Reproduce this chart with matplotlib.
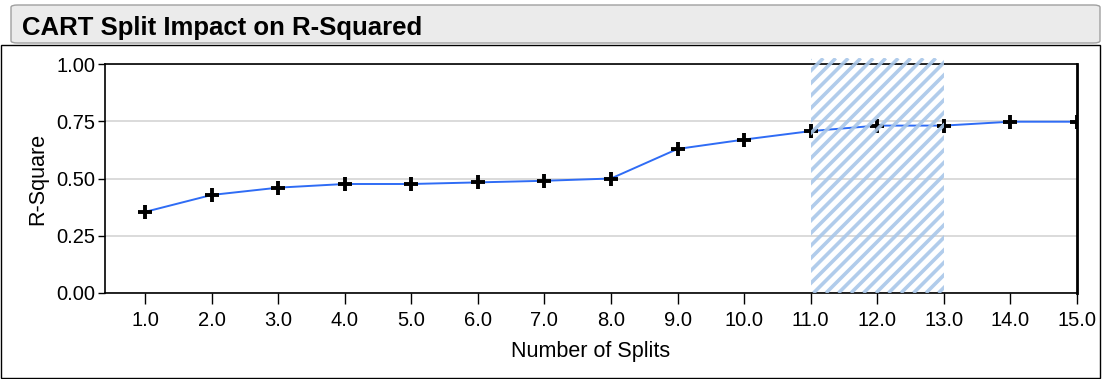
import numpy as np
import matplotlib.pyplot as plt
from matplotlib.patches import FancyBboxPatch, Rectangle
from matplotlib.collections import LineCollection
from matplotlib.transforms import IdentityTransform

plt.rcParams['font.family'] = ['Liberation Sans', 'DejaVu Sans']

splits = [1, 2, 3, 4, 5, 6, 7, 8, 9, 10, 11, 12, 13, 14, 15]
r_square = [0.354, 0.428, 0.460, 0.476, 0.476, 0.483, 0.490, 0.500,
            0.629, 0.670, 0.707, 0.731, 0.731, 0.748, 0.748]
highlight = [11, 13]
xtick_labels = [f'{s:.1f}' for s in splits]

fig = plt.figure(figsize=(11.04, 3.79), dpi=100)

# title bar and outer frame
fig.patches.append(FancyBboxPatch((11 / 1104, 336 / 379), 1089 / 1104, 38 / 379,
                                  boxstyle='round,pad=0,rounding_size=0.006',
                                  transform=fig.transFigure, facecolor='#ebebeb',
                                  edgecolor='#a0a0a0', linewidth=1))
fig.text(22 / 1104, 344 / 379, 'CART Split Impact on R-Squared', fontsize=18.5,
         fontweight='bold', va='baseline', ha='left')
fig.patches.append(Rectangle((1 / 1104, 1 / 379), 1099 / 1104, 333 / 379,
                             transform=fig.transFigure, facecolor='none',
                             edgecolor='black', linewidth=1))

ax = fig.add_axes([105 / 1104, 86 / 379, 972 / 1104, 229 / 379])
ax.plot(splits, r_square, color='#2f6cf5', lw=1.4, marker='+', ms=10.5,
        mew=2.8, mec='black', zorder=3)

ax.set_xlim(0.4, 15)
ax.set_ylim(0, 1)

# striped highlight band
band = Rectangle((highlight[0], 0), highlight[1] - highlight[0], 1.025,
                 facecolor='none', edgecolor='none', transform=ax.transData)
ax.add_patch(band)
band.set_clip_on(False)
(x0, y0), (x1, y1) = ax.transData.transform([(highlight[0], 0), (highlight[1], 1.025)])
step = 12.5
segs = [[(c, y0), (c + (y1 - y0), y1)]
        for c in np.arange(x0 - (y1 - y0), x1 + step, step)]
stripes = LineCollection(segs, colors='#a9c7e9', linewidths=2.6,
                         transform=IdentityTransform(), zorder=4, alpha=0.9)
ax.add_collection(stripes)
stripes.set_clip_path(band)

ax.set_xticks(splits)
ax.set_xticklabels(xtick_labels)
ax.set_yticks([0, 0.25, 0.5, 0.75, 1.0])
ax.set_yticklabels(['0.00', '0.25', '0.50', '0.75', '1.00'])
ax.grid(axis='y', color='#d4d4d4', lw=1.2)
ax.set_axisbelow(True)
ax.tick_params(axis='x', length=8, width=1, labelsize=14.5, pad=5)
ax.tick_params(axis='y', length=5, width=1, labelsize=14.5, pad=2)
for s in ['top', 'left', 'bottom']:
    ax.spines[s].set_linewidth(1.2)
ax.spines['right'].set_linewidth(2)
ax.set_xlabel('Number of Splits', fontsize=15.5, labelpad=8)
ax.set_ylabel('R-Square', fontsize=15.5, labelpad=6)

plt.savefig('out.png', dpi=100)
